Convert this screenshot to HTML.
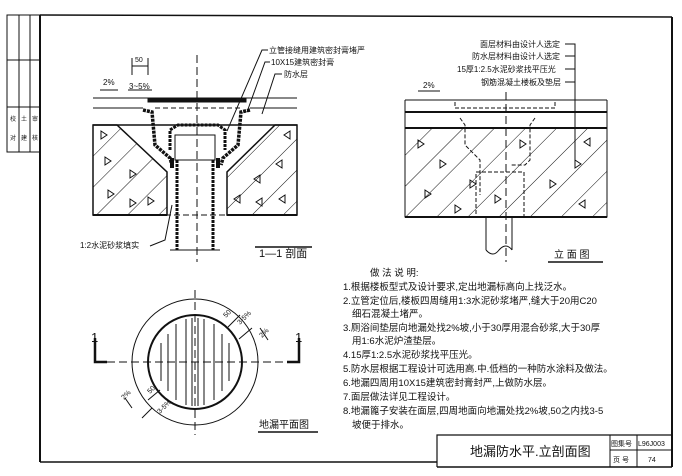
<!DOCTYPE html>
<html><head><meta charset="utf-8"><style>
html,body{margin:0;padding:0;background:#fff;}
svg{display:block;}
text{font-family:"Liberation Sans","Noto Sans CJK SC",sans-serif;fill:#111;}
</style></head><body>
<svg width="682" height="476" viewBox="0 0 682 476" xmlns="http://www.w3.org/2000/svg">
<defs>
<pattern id="hatch" patternUnits="userSpaceOnUse" width="22" height="22" patternTransform="rotate(45)">
<line x1="0" y1="0" x2="0" y2="22" stroke="#111" stroke-width="1"/>
</pattern>
</defs>
<rect width="682" height="476" fill="#fff"/>
<g stroke="#111" fill="none">
<line x1="40" y1="15" x2="672" y2="17" stroke-width="1.5"/>
<line x1="40" y1="15" x2="40" y2="462" stroke-width="2"/>
<line x1="672" y1="17" x2="672" y2="467" stroke-width="2"/>
<line x1="40" y1="462" x2="437" y2="462" stroke-width="1.5"/>
<line x1="437" y1="467" x2="672" y2="467" stroke-width="1.5"/>
<rect x="7" y="15" width="33" height="137" stroke-width="1"/>
<line x1="19" y1="15" x2="19" y2="152"/><line x1="30" y1="15" x2="30" y2="152"/>
<line x1="7" y1="60" x2="40" y2="60"/><line x1="7" y1="107" x2="40" y2="107"/>
<polyline points="437,467 437,435 672,435" stroke-width="1.2"/>
<line x1="610" y1="435" x2="610" y2="467"/><line x1="637" y1="435" x2="637" y2="467"/>
<line x1="610" y1="450" x2="672" y2="450"/>
</g>
<g font-size="6">
<text x="10" y="121">校</text><text x="10" y="140">对</text>
<text x="21" y="121">土</text><text x="21" y="140">建</text>
<text x="32" y="121">审</text><text x="32" y="140">核</text>
</g>
<text x="470" y="456" font-size="13">地漏防水平.立剖面图</text>
<text x="611" y="446" font-size="7">图集号</text><text x="638" y="446" font-size="7">L96J003</text>
<text x="613" y="462" font-size="7">页 号</text><text x="648" y="462" font-size="7">74</text>

<g stroke="#111" fill="none">
<line x1="93" y1="98" x2="297" y2="98"/>
<line x1="93" y1="108" x2="143" y2="108"/><line x1="250" y1="108" x2="297" y2="108"/>
<line x1="93" y1="125" x2="297" y2="125" stroke-width="1.5"/>
<path d="M93,125 L117,125 L167,172 L167,215 L93,215 Z" fill="url(#hatch)" stroke-width="1.5"/>
<path d="M297,125 L275,125 L227,172 L227,215 L297,215 Z" fill="url(#hatch)" stroke-width="1.5"/>
<line x1="93" y1="215" x2="167" y2="215" stroke-width="2"/><line x1="227" y1="215" x2="297" y2="215" stroke-width="2"/>
<path d="M101,131 l6,4 l-6,4 z M105,157 l6,4 l-6,4 z M130,170 l6,4 l-6,4 z M108,190 l6,4 l-6,4 z M148,197 l6,4 l-6,4 z M130,199 l6,4 l-6,4 z"/>
<path d="M290,131 l-6,4 l6,4 z M282,160 l-6,4 l6,4 z M260,175 l-6,4 l6,4 z M285,195 l-6,4 l6,4 z M240,195 l-6,4 l6,4 z M262,198 l-6,4 l6,4 z"/>
<rect x="148" y="98" width="98" height="4" fill="#111"/>
<line x1="155" y1="108" x2="240" y2="108" stroke-dasharray="5,3"/>
<path d="M143,110 L152,112 L155,145 L170,158 L172,165" stroke-width="3.5" stroke-dasharray="3,1"/>
<path d="M250,110 L241,112 L238,145 L223,158 L221,165" stroke-width="3.5" stroke-dasharray="3,1"/>
<path d="M170,150 L170,130 L178,125 L218,125 L225,130 L225,150" stroke-width="3" stroke-dasharray="3,1"/>
<rect x="175" y="135" width="40" height="25"/>
<line x1="177" y1="160" x2="177" y2="250" stroke-width="3" stroke-dasharray="3,1"/>
<line x1="213" y1="160" x2="213" y2="250" stroke-width="3" stroke-dasharray="3,1"/>
<line x1="172" y1="158" x2="172" y2="168" stroke-width="4"/><line x1="218" y1="158" x2="218" y2="168" stroke-width="4"/>
<line x1="170" y1="250" x2="220" y2="250"/>
<line x1="197" y1="55" x2="197" y2="262" stroke-dasharray="8,4"/>
<line x1="165" y1="215" x2="230" y2="215" stroke-dasharray="6,3"/>
<polyline points="227,131 262,50 268,50"/>
<polyline points="247,112 265,62 270,62"/>
<polyline points="262,114 275,74 282,74"/>
<polyline points="150,246 165,240 172,205"/>
<line x1="100" y1="90" x2="118" y2="90"/>
<line x1="128" y1="90" x2="152" y2="90"/>
<line x1="132" y1="58" x2="132" y2="75"/><line x1="148" y1="58" x2="148" y2="75"/>
<line x1="132" y1="66" x2="148" y2="66"/>
<line x1="255" y1="247" x2="312" y2="247" stroke-width="1.5"/>
</g>
<text x="135" y="62" font-size="7">50</text>
<text x="103" y="85" font-size="8">2%</text>
<text x="129" y="89" font-size="8">3~5%</text>
<text x="269" y="53" font-size="8">立管接缝用建筑密封膏堵严</text>
<text x="271" y="65" font-size="8">10X15建筑密封膏</text>
<text x="284" y="77" font-size="8">防水层</text>
<text x="80" y="248" font-size="8">1:2水泥砂浆填实</text>
<text x="259" y="257" font-size="11">1—1 剖面</text>

<g stroke="#111" fill="none">
<line x1="405" y1="100" x2="607" y2="100"/>
<line x1="405" y1="112" x2="607" y2="112" stroke-width="2"/>
<line x1="405" y1="128" x2="607" y2="128" stroke-width="2"/>
<rect x="405" y="128" width="202" height="89" fill="url(#hatch)"/>
<line x1="405" y1="217" x2="607" y2="217" stroke-width="2"/>
<line x1="405" y1="100" x2="405" y2="217"/><line x1="607" y1="100" x2="607" y2="217"/>
<path d="M418,140 l6,4 l-6,4 z M440,160 l6,4 l-6,4 z M425,190 l6,4 l-6,4 z M470,180 l6,4 l-6,4 z M495,195 l6,4 l-6,4 z M520,140 l6,4 l-6,4 z M550,180 l6,4 l-6,4 z M575,160 l6,4 l-6,4 z M590,138 l-6,4 l6,4 z M585,200 l-6,4 l6,4 z M455,205 l6,4 l-6,4 z"/>
<rect x="455" y="100" width="100" height="8" stroke-dasharray="4,2"/>
<path d="M460,118 L465,125 L465,145 L480,160 L480,195 M535,118 L530,125 L530,160 L525,165 L510,165" stroke-dasharray="4,2"/>
<rect x="476" y="172" width="48" height="45" stroke-dasharray="4,2"/>
<line x1="486" y1="217" x2="486" y2="250"/><line x1="512" y1="217" x2="512" y2="250"/>
<path d="M486,250 Q493,258 499,250 Q506,242 512,250"/>
<line x1="506" y1="92" x2="506" y2="262" stroke-dasharray="8,4"/>
<polyline points="565,44 575,44 575,165"/>
<line x1="565" y1="56" x2="575" y2="56"/><line x1="565" y1="69" x2="575" y2="69"/><line x1="565" y1="82" x2="575" y2="82"/>
<line x1="418" y1="91" x2="440" y2="91"/>
<line x1="548" y1="262" x2="603" y2="262" stroke-width="1.5"/>
</g>
<text x="480" y="47" font-size="8">面层材料由设计人选定</text>
<text x="472" y="59" font-size="8">防水层材料由设计人选定</text>
<text x="457" y="72" font-size="8">15厚1:2.5水泥砂浆找平压光</text>
<text x="481" y="85" font-size="8">钢筋混凝土楼板及垫层</text>
<text x="423" y="88" font-size="8">2%</text>
<text x="554" y="258" font-size="10">立 面 图</text>

<g stroke="#111" fill="none">
<circle cx="195" cy="362" r="63"/>
<circle cx="195" cy="362" r="47" stroke-width="2"/>
<path d="M161,343 L161,381 M168,334 L168,391 M176,324 L176,400 M186,319 L186,405 M192,318 L192,406 M198,318 L198,406 M204,319 L204,405 M214,324 L214,400 M222,334 L222,391 M229,343 L229,381"/>
<line x1="195" y1="290" x2="195" y2="435" stroke-dasharray="8,4"/>
<line x1="95" y1="362" x2="295" y2="362" stroke-dasharray="8,4"/>
<polyline points="95,338 95,362 107,362" stroke-width="2.5"/>
<polyline points="299,338 299,362 287,362" stroke-width="2.5"/>
<line x1="228" y1="327" x2="240" y2="315"/><line x1="239" y1="339" x2="252" y2="328"/>
<line x1="148" y1="400" x2="160" y2="390"/>
<line x1="152" y1="408" x2="142" y2="418"/>
<line x1="260" y1="328" x2="268" y2="340"/>
<line x1="125" y1="398" x2="132" y2="408"/>
<line x1="258" y1="432" x2="318" y2="432" stroke-width="1.5"/>
</g>
<text x="226" y="318" font-size="7" transform="rotate(-45 226 318)">50</text>
<text x="240" y="325" font-size="7" transform="rotate(-45 240 325)">3-5%</text>
<text x="262" y="338" font-size="7" transform="rotate(-45 262 338)">2%</text>
<text x="150" y="394" font-size="7" transform="rotate(-45 150 394)">50</text>
<text x="160" y="414" font-size="7" transform="rotate(-45 160 414)">3-5%</text>
<text x="124" y="400" font-size="7" transform="rotate(-45 124 400)">2%</text>
<text x="91" y="342" font-size="13">1</text>
<text x="295" y="342" font-size="13">1</text>
<text x="259" y="428" font-size="10">地漏平面图</text>

<g font-size="9.5">
<text x="370" y="276">做 法 说 明:</text>
<text x="343" y="290">1.根据楼板型式及设计要求,定出地漏标高向上找泛水。</text>
<text x="343" y="304">2.立管定位后,楼板四周缝用1:3水泥砂浆堵严,缝大于20用C20</text>
<text x="352" y="317">细石混凝土堵严。</text>
<text x="343" y="331">3.厕浴间垫层向地漏处找2%坡,小于30厚用混合砂浆,大于30厚</text>
<text x="352" y="344">用1:6水泥炉渣垫层。</text>
<text x="343" y="358">4.15厚1:2.5水泥砂浆找平压光。</text>
<text x="343" y="372">5.防水层根据工程设计可选用高.中.低档的一种防水涂料及做法。</text>
<text x="343" y="386">6.地漏四周用10X15建筑密封膏封严,上做防水层。</text>
<text x="343" y="400">7.面层做法详见工程设计。</text>
<text x="343" y="414">8.地漏篦子安装在面层,四周地面向地漏处找2%坡,50之内找3-5</text>
<text x="352" y="428">坡便于排水。</text>
</g>
</svg>
</body></html>
